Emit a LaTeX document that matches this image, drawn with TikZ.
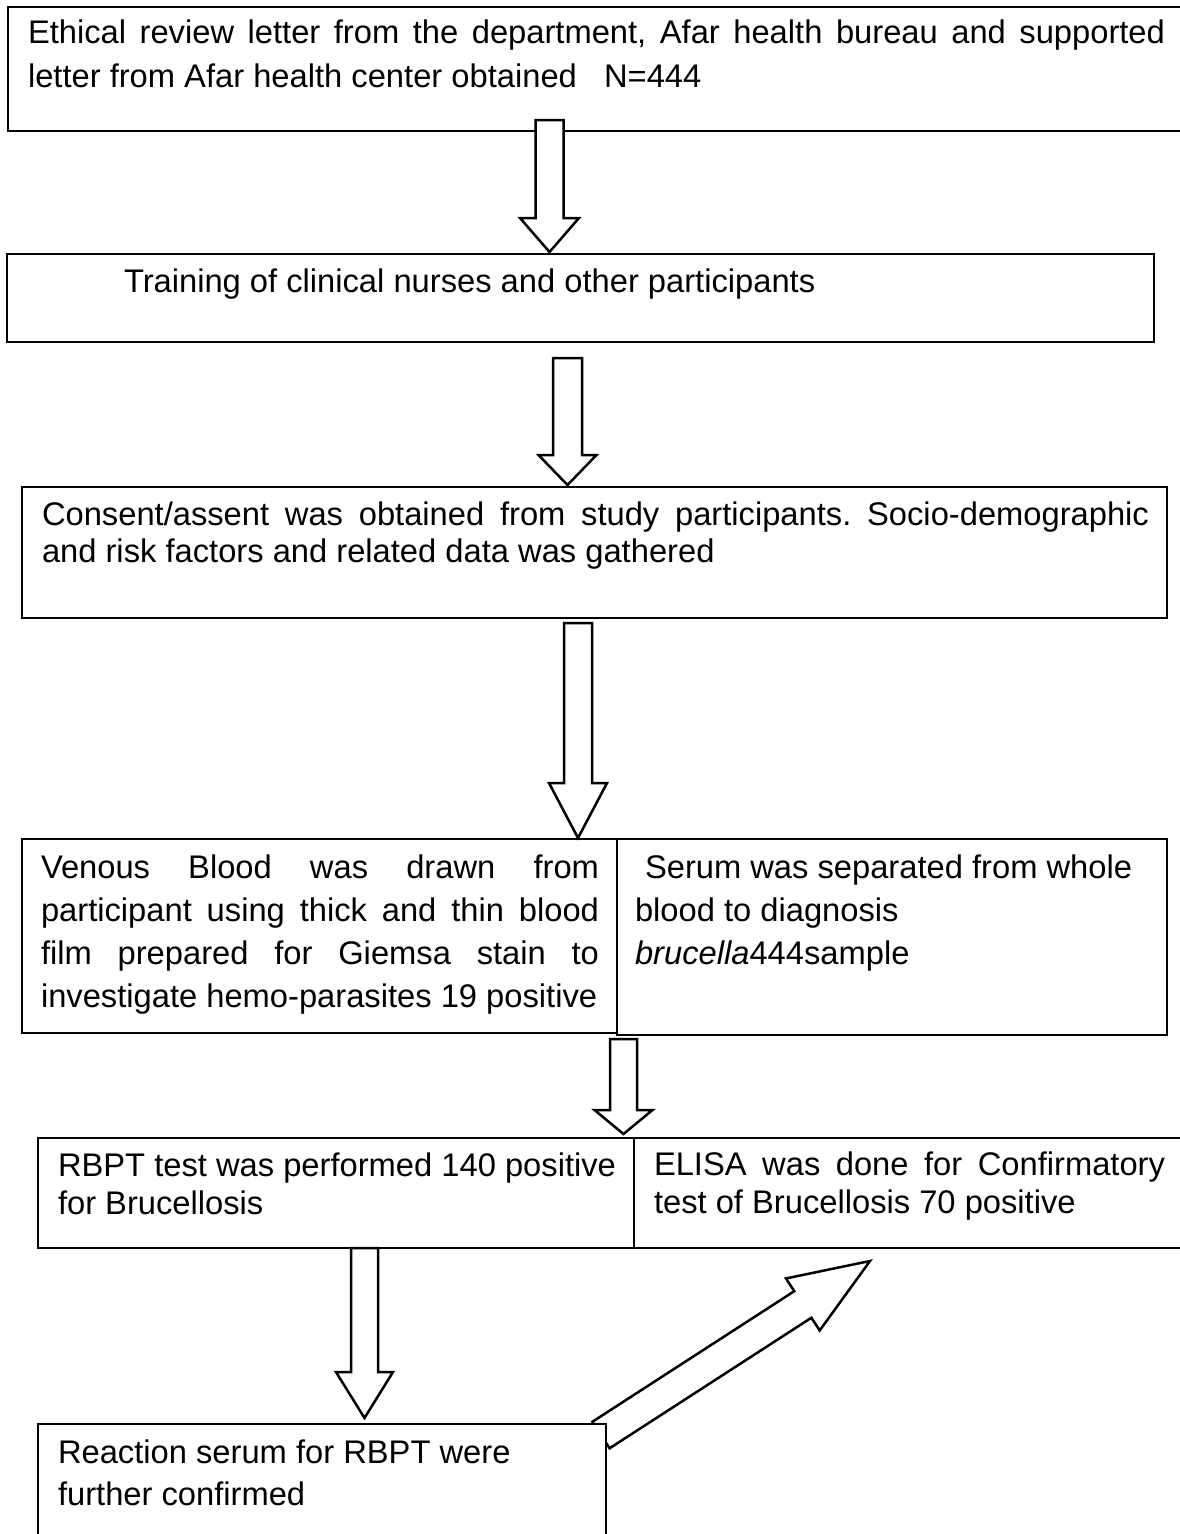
\documentclass[tikz,border=0pt]{standalone}
\usepackage{fontspec}
\setmainfont{Liberation Sans}
\usetikzlibrary{calc}
\frenchspacing
\newcommand\blockarrow[5]{% tail, tip, head length, half shaft, half head
  \coordinate (bah) at ($(#2)!#3!(#1)$);
  \draw[barrow] ($(#1)!#4!90:(#2)$) -- ($(bah)!#4!90:(#2)$) -- ($(bah)!#5!90:(#2)$) -- (#2)
    -- ($(bah)!#5!-90:(#2)$) -- ($(bah)!#4!-90:(#2)$) -- ($(#1)!#4!-90:(#2)$) -- cycle;
}
\newcommand\boxtext[3]{% width, baselineskip, text
  \parbox[t]{#1}{\fontsize{32.7pt}{#2}\selectfont\frenchspacing\tolerance=10000\emergencystretch=20pt
  \hyphenpenalty=10000\exhyphenpenalty=10000\parindent=0pt #3}}
\begin{document}
\begin{tikzpicture}[x=1pt,y=-1pt,
  box/.style={draw=black, line width=2.5pt, rectangle, inner sep=0pt, outer sep=0pt, anchor=north west},
  txt/.style={inner sep=0pt, outer sep=0pt, anchor=base west},
  barrow/.style={draw=black, fill=white, line width=2.5pt, line join=miter}]
\useasboundingbox[fill=white] (0,0) rectangle (1179,1534);

% boxes
\node[box, minimum width=1182pt, minimum height=124pt] (b1) at (8,7) {};
\node[box, minimum width=1147pt, minimum height=88pt] (b2) at (7,254) {};
\node[box, minimum width=1145pt, minimum height=131pt] (b3) at (22,487) {};
\node[box, minimum width=595pt, minimum height=194pt] (b4a) at (22,839) {};
\node[box, minimum width=550pt, minimum height=196pt] (b4b) at (617,839) {};
\node[box, minimum width=596pt, minimum height=110pt] (b5a) at (38,1138) {};
\node[box, minimum width=560pt, minimum height=110pt] (b5b) at (634,1138) {};

% texts
\node[txt] (t1) at (28,43) {\boxtext{1137pt}{44pt}{Ethical review letter from the department, Afar health bureau and supported\linebreak letter from Afar health center obtained\ \ \ N=444}};
\node[txt] (t2) at (124,292) {\boxtext{1000pt}{44pt}{Training of clinical nurses and other participants}};
\node[txt] (t3) at (42,525) {\boxtext{1107pt}{37pt}{Consent/assent was obtained from study participants. Socio-demographic\linebreak and risk factors and related data was gathered}};
\node[txt] (t4a) at (41,878) {\boxtext{558pt}{43.3pt}{Venous Blood was drawn from\linebreak participant using thick and thin blood\linebreak film prepared for Giemsa stain to\linebreak investigate hemo-parasites 19 positive}};
\node[txt] (t4b) at (635,878) {\boxtext{520pt}{43.3pt}{\hspace*{10pt}Serum was separated from whole\\ blood to diagnosis\\ \textit{brucella}444sample}};
\node[txt] (t5a) at (58,1176) {\boxtext{570pt}{38pt}{RBPT test was performed 140 positive\\ for Brucellosis}};
\node[txt] (t5b) at (654,1175) {\boxtext{511pt}{38pt}{ELISA was done for Confirmatory\linebreak test of Brucellosis 70 positive}};

% arrow end points
\coordinate (a1s) at (549.5,120);  \coordinate (a1e) at (549.5,252);
\coordinate (a2s) at (567.5,358);  \coordinate (a2e) at (567.5,485);
\coordinate (a3s) at (578,623);    \coordinate (a3e) at (578,838);
\coordinate (a4s) at (623.5,1039); \coordinate (a4e) at (623.5,1134);
\coordinate (a5s) at (364.5,1248); \coordinate (a5e) at (364.5,1418);
\coordinate (a6s) at (601,1435);   \coordinate (a6e) at (870,1261);

\blockarrow{a1s}{a1e}{34pt}{14pt}{29.5pt}
\blockarrow{a2s}{a2e}{30pt}{14.5pt}{29pt}
\blockarrow{a3s}{a3e}{55pt}{14pt}{29pt}
\blockarrow{a4s}{a4e}{24pt}{13.5pt}{29pt}
\blockarrow{a5s}{a5e}{46pt}{13.5pt}{28.5pt}
\blockarrow{a6s}{a6e}{80pt}{15.8pt}{31pt}

\node[box, fill=white, minimum width=568pt, minimum height=130pt] (b6) at (38,1424) {};
\node[txt] (t6) at (58,1463) {\boxtext{520pt}{42pt}{Reaction serum for RBPT were\\ further confirmed}};
\end{tikzpicture}
\end{document}
